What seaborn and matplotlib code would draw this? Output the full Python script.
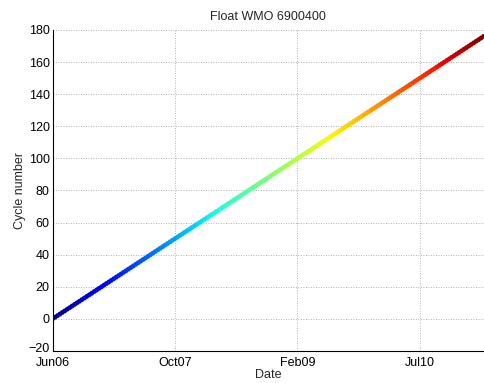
import matplotlib
matplotlib.use("Agg")
import matplotlib.pyplot as plt
import matplotlib.dates as mdates
import matplotlib.transforms as mtransforms
import pandas as pd
import seaborn as sns

# Profile cycle numbers and days since the first profile
cycles = [
    0, 1, 2, 3, 4, 5, 6, 7, 8, 9, 10, 11, 12, 13, 14, 15, 16, 17, 18, 19,
    20, 21, 22, 23, 24, 25, 26, 27, 28, 29, 30, 31, 32, 33, 34, 35, 36, 37, 38, 39,
    40, 41, 42, 43, 44, 45, 46, 47, 48, 49, 50, 51, 52, 53, 54, 55, 56, 57, 58, 59,
    60, 61, 62, 63, 64, 65, 66, 67, 68, 69, 70, 71, 72, 73, 74, 75, 76, 77, 78, 79,
    80, 81, 82, 83, 84, 85, 86, 87, 88, 89, 90, 91, 92, 93, 94, 95, 96, 97, 98, 99,
    100, 101, 102, 103, 104, 105, 106, 107, 108, 109, 110, 111, 112, 113, 114, 115, 116, 117, 118, 119,
    120, 121, 122, 123, 124, 125, 126, 127, 128, 129, 130, 131, 132, 133, 134, 135, 136, 137, 138, 139,
    140, 141, 142, 143, 144, 145, 146, 147, 148, 149, 150, 151, 152, 153, 154, 155, 156, 157, 158, 159,
    160, 161, 162, 163, 164, 165, 166, 167, 168, 169, 170, 171, 172, 173, 174, 175, 176,
]
day_offsets = [
    0, 10, 20, 30, 40, 50, 60, 70, 80, 90, 100, 110, 120, 130, 140, 150, 160, 170, 180, 190,
    200, 210, 220, 230, 240, 250, 260, 270, 280, 290, 300, 310, 320, 330, 340, 350, 360, 370, 380, 390,
    400, 410, 420, 430, 440, 450, 460, 470, 480, 490, 500, 510, 520, 530, 540, 550, 560, 570, 580, 590,
    600, 610, 620, 630, 640, 650, 660, 670, 680, 690, 700, 710, 720, 730, 740, 750, 760, 770, 780, 790,
    800, 810, 820, 830, 840, 850, 860, 870, 880, 890, 900, 910, 920, 930, 940, 950, 960, 970, 980, 990,
    1000, 1010, 1020, 1030, 1040, 1050, 1060, 1070, 1080, 1090, 1100, 1110, 1120, 1130, 1140, 1150, 1160, 1170, 1180, 1190,
    1200, 1210, 1220, 1230, 1240, 1250, 1260, 1270, 1280, 1290, 1300, 1310, 1320, 1330, 1340, 1350, 1360, 1370, 1380, 1390,
    1400, 1410, 1420, 1430, 1440, 1450, 1460, 1470, 1480, 1490, 1500, 1510, 1520, 1530, 1540, 1550, 1560, 1570, 1580, 1590,
    1600, 1610, 1620, 1630, 1640, 1650, 1660, 1670, 1680, 1690, 1700, 1710, 1720, 1730, 1740, 1750, 1760,
]
first_profile = "2006-06-01"
tick_day_offsets = [0, 500, 1000, 1500]
y_ticks = [-20, 0, 20, 40, 60, 80, 100, 120, 140, 160, 180]

sns.set_style("white")
plt.rcParams["font.family"] = ["Liberation Sans", "DejaVu Sans"]
plt.rcParams["font.size"] = 9

start = pd.Timestamp(first_profile)
df = pd.DataFrame({
    "date": [start + pd.Timedelta(days=d) for d in day_offsets],
    "cycle": cycles,
})

fig = plt.figure(figsize=(4.84, 3.83), dpi=100)
ax = fig.add_axes([0.1085, 0.0836, 0.8915, 0.8381])

sns.scatterplot(data=df, x="date", y="cycle", hue="cycle",
                palette=matplotlib.colormaps["jet"],
                hue_norm=(min(cycles), max(cycles)), s=12, linewidth=0,
                legend=False, ax=ax, zorder=3)

ax.set_xlim(start, start + pd.Timedelta(days=1762))
ax.set_ylim(-20, 180)
ax.set_xticks([start + pd.Timedelta(days=d) for d in tick_day_offsets])
ax.xaxis.set_major_formatter(mdates.DateFormatter("%b%y"))
ax.set_yticks(y_ticks)

ax.grid(True, linestyle=(0, (1, 2)), color="#999999", linewidth=0.6)
for side in ("top", "right"):
    ax.spines[side].set_visible(False)
for side in ("left", "bottom"):
    ax.spines[side].set_color("black")
    ax.spines[side].set_linewidth(0.8)
ax.tick_params(direction="in", length=4, width=0.8, colors="black",
               labelsize=9)
ax.tick_params(axis="x", pad=4)
ax.tick_params(axis="y", pad=2)

# lift the lowest y label a little so it clears the first date label
lowest = ax.get_yticklabels()[0]
lowest.set_transform(lowest.get_transform()
                     + mtransforms.ScaledTranslation(0, 2.5 / 72, fig.dpi_scale_trans))

ax.set_title("Float WMO 6900400", fontsize=9, pad=7)
ax.set_xlabel("Date", fontsize=9, labelpad=0)
ax.set_ylabel("Cycle number", fontsize=9, labelpad=2)

fig.savefig("out.png", dpi=100)
